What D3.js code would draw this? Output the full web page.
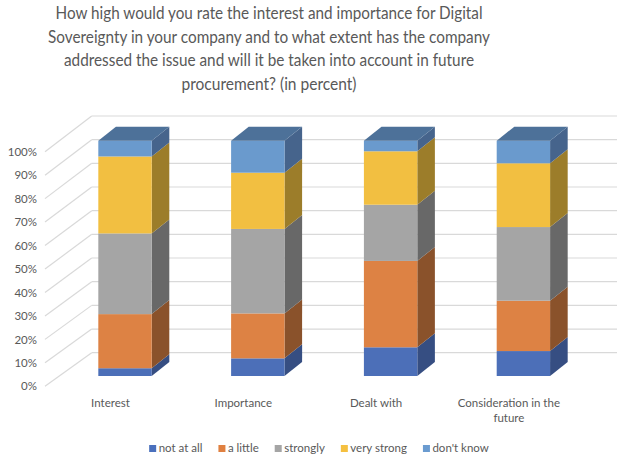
<!DOCTYPE html>
<html>
<head>
<meta charset="utf-8">
<script src="https://cdn.jsdelivr.net/npm/d3@7"></script>
<style>
  html, body { margin: 0; padding: 0; background: #ffffff; }
  svg { display: block; font-family: Lato, "Open Sans", sans-serif; }
</style>
</head>
<body>
<svg id="chart" width="617" height="459"></svg>
<script>
// ---------- data ----------
const titleLines = [
  "How high would you rate the interest and importance for Digital",
  "Sovereignty in your company and to what extent has the company",
  "addressed the issue and will it be taken into account in future",
  "procurement? (in percent)"
];
const categories = ["Interest", "Importance", "Dealt with", "Consideration in the future"];
const categoryLines = [["Interest"], ["Importance"], ["Dealt with"], ["Consideration in the", "future"]];
const seriesNames = ["not at all", "a little", "strongly", "very strong", "don't know"];
const notAtAll   = [3.3, 7.5, 12.2, 10.6];
const aLittle    = [23.0, 19.1, 36.7, 21.4];
const strongly   = [34.3, 35.9, 23.9, 31.3];
const veryStrong = [32.7, 23.9, 22.7, 27.1];
const dontKnow   = [6.7, 13.6, 4.5, 9.6];
const tickValues = [0, 10, 20, 30, 40, 50, 60, 70, 80, 90, 100];

const frontColors  = ["#4c6fb8", "#dd8244", "#a5a5a5", "#f2bf41", "#6a9acd"];
const sideColors   = ["#364e82", "#8a522b", "#686868", "#9c7d2a", "#46648c"];
const legendColors = ["#4a70bd", "#e08040", "#a5a5a5", "#f5c040", "#6a9bd0"];
const topColor = "#4d7199";

// ---------- setup ----------
const svg = d3.select("#chart");
const textColor = "#595959";
const gridColor = "#d9d9d9";

const seriesValues = [notAtAll, aLittle, strongly, veryStrong, dontKnow];
const table = categories.map((c, i) => {
  const row = { category: c };
  seriesNames.forEach((s, j) => row[s] = seriesValues[j][i]);
  return row;
});
const stacked = d3.stack().keys(seriesNames)(table);

// scales
const yLabel = d3.scaleLinear().domain([0, 100]).range([386.3, 151.7]);
const yBack  = d3.scaleLinear().domain([0, 100]).range([352.7, 116]);
const yBar   = d3.scaleLinear().domain([0, 100]).range([376, 140.7]);
const x = d3.scaleBand().domain(categories).range([18.9, 629.5]).padding(0.598);
const depthDx = 17.6, depthDy = -14;
const wallLeft = 91.7, floorLeft = 45;

// ---------- title ----------
const titleY = [19, 42.5, 66, 89.5];
const titleWidths = [427, 442, 410, 175];
svg.append("g").selectAll("text").data(titleLines).join("text")
  .attr("x", 269).attr("y", (d, i) => titleY[i])
  .attr("text-anchor", "middle")
  .attr("font-size", 17.5)
  .attr("fill", textColor)
  .attr("textLength", (d, i) => titleWidths[i])
  .attr("lengthAdjust", "spacingAndGlyphs")
  .text(d => d);

// ---------- gridlines (back wall + left side wall) ----------
const grid = svg.append("g");
grid.selectAll("line.h").data(tickValues).join("line")
  .attr("class", "h")
  .attr("x1", wallLeft).attr("x2", 617)
  .attr("y1", d => yBack(d)).attr("y2", d => yBack(d))
  .attr("stroke", gridColor).attr("stroke-width", 1.2);
grid.selectAll("line.d").data(tickValues).join("line")
  .attr("class", "d")
  .attr("x1", floorLeft).attr("x2", wallLeft)
  .attr("y1", d => yLabel(d)).attr("y2", d => yBack(d))
  .attr("stroke", gridColor).attr("stroke-width", 1.2);

// ---------- y axis labels ----------
const yAxis = svg.append("g")
  .attr("transform", "translate(37,0)")
  .call(d3.axisLeft(yLabel).tickValues(tickValues).tickFormat(d => d + "%").tickSize(0).tickPadding(0));
yAxis.select(".domain").remove();
yAxis.selectAll("text").attr("font-size", 11.5).attr("fill", textColor)
  .attr("font-family", "Lato, 'Open Sans', sans-serif");

// ---------- bars ----------
const bars = svg.append("g");
stacked.forEach((layer, si) => {
  const g = bars.append("g");
  layer.forEach((seg, ci) => {
    const cat = categories[ci];
    const xl = x(cat), xr = x(cat) + x.bandwidth();
    const yt = yBar(seg[1]), yb = yBar(seg[0]);
    // side face
    g.append("path")
      .attr("d", `M${xr},${yb}L${xr},${yt}L${xr + depthDx},${yt + depthDy}L${xr + depthDx},${yb + depthDy}Z`)
      .attr("fill", sideColors[si]);
    // front face
    g.append("rect")
      .attr("x", xl).attr("y", yt)
      .attr("width", x.bandwidth()).attr("height", yb - yt)
      .attr("fill", frontColors[si]);
    // top face on the last series
    if (si === stacked.length - 1) {
      g.append("path")
        .attr("d", `M${xl},${yt}L${xr},${yt}L${xr + depthDx},${yt + depthDy}L${xl + depthDx},${yt + depthDy}Z`)
        .attr("fill", topColor);
    }
  });
});

// ---------- category labels ----------
const catG = svg.append("g");
categories.forEach((c, i) => {
  const cx = x(c) + x.bandwidth() / 2 - 14.5;
  catG.append("g").selectAll("text").data(categoryLines[i]).join("text")
    .attr("x", cx).attr("y", (d, k) => 407 + k * 14.5)
    .attr("text-anchor", "middle")
    .attr("font-size", 11.5)
    .attr("fill", textColor)
    .text(d => d);
});

// ---------- legend ----------
const legend = svg.append("g");
const items = legend.selectAll("g").data(seriesNames).join("g");
items.append("rect").attr("width", 7).attr("height", 7).attr("y", -7)
  .attr("fill", (d, i) => legendColors[i]);
items.append("text").attr("x", 9.5).attr("y", 0)
  .attr("font-size", 11.5).attr("fill", textColor).text(d => d);
let widths = [];
items.each(function () { widths.push(this.querySelector("text").getComputedTextLength() + 9.5); });
const gap = 16;
const total = d3.sum(widths) + gap * (widths.length - 1);
let cur = 319 - total / 2;
items.attr("transform", (d, i) => {
  const t = `translate(${cur},452)`;
  cur += widths[i] + gap;
  return t;
});
</script>
</body>
</html>
